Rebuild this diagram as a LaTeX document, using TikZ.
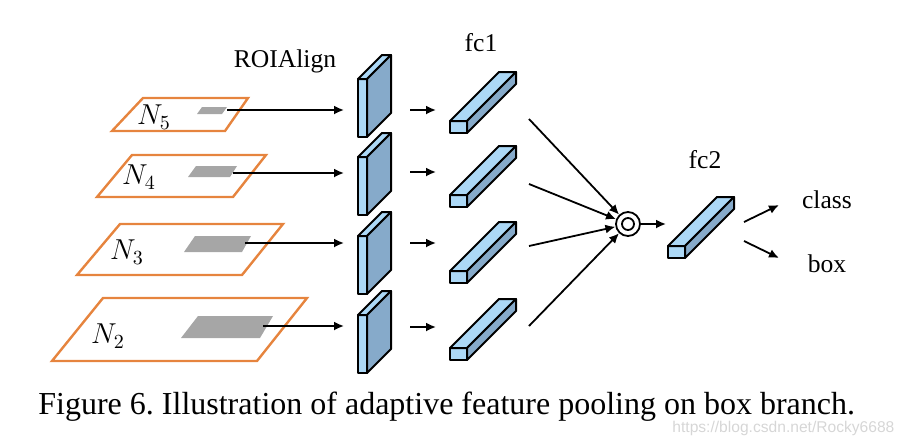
\documentclass[tikz,border=0pt]{standalone}
\usepackage{fontspec}
\setmainfont{Liberation Serif}
\newfontfamily\markFont{Liberation Sans}
\usepackage{tikz}
\usetikzlibrary{arrows.meta}
\usepackage{xcolor}
\frenchspacing
\definecolor{levelOrange}{RGB}{230,132,62}
\definecolor{patchGray}{RGB}{166,166,166}
\definecolor{frontBlue}{RGB}{172,216,246}
\definecolor{sideBlue}{RGB}{134,170,202}
\definecolor{markGray}{RGB}{214,214,214}
\newcommand{\labelSize}{\fontsize{12.8}{15}\selectfont}
\newcommand{\levelSize}{\fontsize{14.5}{17}\selectfont}
\newcommand{\captionSize}{\fontsize{16}{19}\selectfont}
% cuboid: lower left corner of the front face, width, height, depth
\newcommand{\cuboid}[5]{%
  \filldraw[blockLine,fill=frontBlue] (#1,#2) rectangle ++(#3,-#4);
  \filldraw[blockLine,fill=frontBlue] (#1,#2) ++(0,-#4) -- ++(#3,0) -- ++(#5,-#5) -- ++(-#3,0) -- cycle;
  \filldraw[blockLine,fill=sideBlue] (#1,#2) ++(#3,0) -- ++(0,-#4) -- ++(#5,-#5) -- ++(0,#4) -- cycle;
}
\newcommand{\plateBlock}[2]{\cuboid{#1}{#2}{9}{58}{24}}
\newcommand{\fcBar}[2]{\cuboid{#1}{#2}{17}{12}{49}}

\begin{document}
\begin{tikzpicture}[x=0.5pt, y=-0.5pt,
    blockLine/.style={line width=1pt, line join=round},
    levelLine/.style={draw=levelOrange, line width=1.2pt, line join=miter},
    flowArrow/.style={-{Latex[length=5pt,width=4.5pt]}, line width=0.9pt},
    fuseNode/.style={circle, draw, line width=0.9pt, inner sep=0pt, minimum size=12pt}]

\useasboundingbox (0,0) rectangle (906,446);

% pyramid levels
\draw[levelLine] (143,98) -- (248,98) -- (225,131) -- (112,131) -- cycle;
\draw[levelLine] (132,155) -- (266,155) -- (233,197) -- (97,197) -- cycle;
\draw[levelLine] (120,224) -- (283,224) -- (242,275) -- (77,275) -- cycle;
\draw[levelLine] (103,298) -- (307,298) -- (257,361) -- (52,361) -- cycle;

\fill[patchGray] (202,107) -- (227,107) -- (222,114) -- (197,114) -- cycle;
\fill[patchGray] (196,166) -- (237,166) -- (230,177) -- (188,177) -- cycle;
\fill[patchGray] (195,236) -- (251,236) -- (242,252) -- (184,252) -- cycle;
\fill[patchGray] (198,316) -- (273,316) -- (260,338) -- (181,338) -- cycle;

\node (levelFive) at (154,117) {\levelSize$N_5$};
\node (levelFour) at (139,177) {\levelSize$N_4$};
\node (levelThree) at (127,252) {\levelSize$N_3$};
\node (levelTwo) at (108,336) {\levelSize$N_2$};

% ROIAlign blocks
\plateBlock{358}{137}
\plateBlock{358}{215}
\plateBlock{358}{294}
\plateBlock{358}{373}
\node (roiLabel) at (285,61) {\labelSize ROIAlign};

% fc1 and fc2
\fcBar{450}{133}
\fcBar{450}{207}
\fcBar{450}{283}
\fcBar{450}{360}
\fcBar{668}{258}
\node (fcOneLabel) at (481,43) {\labelSize fc1};
\node (fcTwoLabel) at (705,160) {\labelSize fc2};

\coordinate (roiFive) at (227,110);  \coordinate (plateFive) at (344,110);
\coordinate (roiFour) at (233,173);  \coordinate (plateFour) at (344,173);
\coordinate (roiThree) at (245,243); \coordinate (plateThree) at (344,243);
\coordinate (roiTwo) at (263,326);   \coordinate (plateTwo) at (344,326);
\draw[flowArrow] (roiFive) -- (plateFive);
\draw[flowArrow] (roiFour) -- (plateFour);
\draw[flowArrow] (roiThree) -- (plateThree);
\draw[flowArrow] (roiTwo) -- (plateTwo);

\coordinate (plateOutFive) at (410,110);  \coordinate (fcInFive) at (436,110);
\coordinate (plateOutFour) at (410,172);  \coordinate (fcInFour) at (436,172);
\coordinate (plateOutThree) at (410,243); \coordinate (fcInThree) at (436,243);
\coordinate (plateOutTwo) at (410,327);   \coordinate (fcInTwo) at (436,327);
\draw[flowArrow] (plateOutFive) -- (fcInFive);
\draw[flowArrow] (plateOutFour) -- (fcInFour);
\draw[flowArrow] (plateOutThree) -- (fcInThree);
\draw[flowArrow] (plateOutTwo) -- (fcInTwo);

% fusion
\node[fuseNode] (fuse) at (628,224) {};
\node[fuseNode, minimum size=6pt] (fuseInner) at (fuse) {};
\coordinate (fcOutFive) at (529,119);
\coordinate (fcOutFour) at (529,184);
\coordinate (fcOutThree) at (529,246);
\coordinate (fcOutTwo) at (529,326);
\draw[flowArrow] (fcOutFive) -- (fuse);
\draw[flowArrow] (fcOutFour) -- (fuse);
\draw[flowArrow] (fcOutThree) -- (fuse);
\draw[flowArrow] (fcOutTwo) -- (fuse);
\coordinate (fcTwoIn) at (666,224);
\draw[flowArrow] (fuse) -- (fcTwoIn);

% heads
\node (classLabel) at (827,200) {\labelSize class};
\node (boxLabel) at (827,264) {\labelSize box};
\coordinate (headOutClass) at (744,222);
\coordinate (headOutBox) at (744,241);
\coordinate (classIn) at (779,205);
\coordinate (boxIn) at (779,258);
\draw[flowArrow] (headOutClass) -- (classIn);
\draw[flowArrow] (headOutBox) -- (boxIn);

\node[anchor=base west, inner sep=0pt] (caption) at (38,414) {\captionSize Figure 6. Illustration of adaptive feature pooling on box branch.};
\node[anchor=west, inner sep=0pt, text=markGray] (watermark) at (672,428) {\markFont\fontsize{7.8}{9}\selectfont https://blog.csdn.net/Rocky6688};
\end{tikzpicture}
\end{document}
